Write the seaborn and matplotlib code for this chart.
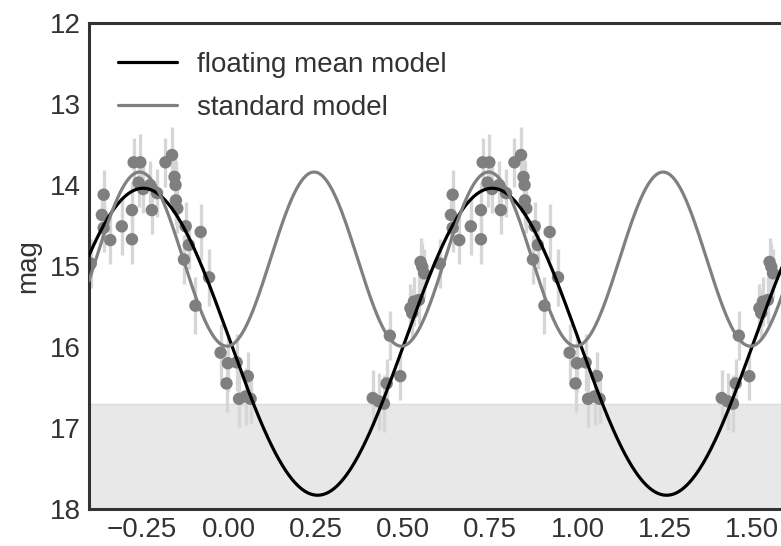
import numpy as np
import pandas as pd
import matplotlib
matplotlib.use("Agg")
import matplotlib.pyplot as plt
import seaborn as sns

# ---- data (base phase, magnitude, error) ----
phase = [-0.395, -0.358, -0.363, -0.358, -0.339, -0.306, -0.277, -0.277, -0.272, -0.253,
         -0.258, -0.245, -0.225, -0.205, -0.220, -0.181, -0.162, -0.155, -0.152, -0.151,
         -0.147, -0.123, -0.114, -0.080, -0.128, -0.056, -0.095, -0.023, -0.002, 0.023,
         -0.006, 0.055, 0.030, 0.049, 0.063, 0.413, 0.430, 0.445, 0.453, 0.462,
         0.492, 0.521, 0.526, 0.531, 0.545, 0.550, 0.555, 0.560]
mag = [14.97, 14.12, 14.37, 14.53, 14.68, 14.51, 14.31, 14.67, 13.72, 13.72,
       13.97, 14.05, 14.00, 14.10, 14.31, 13.72, 13.63, 13.90, 14.00, 14.19,
       14.29, 14.51, 14.74, 14.58, 14.92, 15.14, 15.49, 16.07, 16.20, 16.19,
       16.45, 16.36, 16.64, 16.61, 16.64, 16.63, 16.67, 16.70, 16.45, 15.86,
       16.36, 15.52, 15.58, 15.44, 15.42, 14.95, 15.01, 15.09]
dmag = [0.30, 0.30, 0.30, 0.30, 0.30, 0.35, 0.35, 0.30, 0.30, 0.35,
        0.30, 0.30, 0.30, 0.30, 0.30, 0.30, 0.35, 0.30, 0.30, 0.30,
        0.30, 0.30, 0.30, 0.35, 0.30, 0.35, 0.35, 0.35, 0.35, 0.35,
        0.35, 0.30, 0.35, 0.35, 0.30, 0.35, 0.35, 0.35, 0.30, 0.30,
        0.30, 0.30, 0.30, 0.30, 0.30, 0.30, 0.30, 0.30]
cycles = [0, 1]

# model parameters (mean, amplitude, phase of brightest point, harmonics per cycle)
float_mean, float_amp, float_peak, float_nu = 15.935, 1.895, -0.245, 1
std_mean, std_amp, std_peak, std_nu = 14.915, 1.075, 0.245, 2

detection_limit = 16.7
xlim = (-0.4, 1.6)
ylim = (18, 12)
xticks = [-0.25, 0.0, 0.25, 0.5, 0.75, 1.0, 1.25, 1.5]
yticks = [12, 13, 14, 15, 16, 17, 18]

# ---- build tables ----
obs = pd.concat([pd.DataFrame({"phase": np.array(phase) + c, "mag": mag, "dmag": dmag})
                 for c in cycles], ignore_index=True)
ph = np.linspace(xlim[0], xlim[1], 1000)
models = pd.concat([
    pd.DataFrame({"phase": ph,
                  "mag": float_mean - float_amp * np.cos(2 * np.pi * float_nu * (ph - float_peak)),
                  "model": "floating mean model"}),
    pd.DataFrame({"phase": ph,
                  "mag": std_mean - std_amp * np.cos(2 * np.pi * std_nu * (ph - std_peak)),
                  "model": "standard model"}),
], ignore_index=True)

sns.set_style("white")
plt.rcParams["font.family"] = ["Liberation Sans", "DejaVu Sans"]

fs = 20
fig = plt.figure(figsize=(7.81, 5.46), dpi=100)
ax = fig.add_axes([89 / 781, 37 / 546, 698 / 781, 486 / 546])

ax.fill_between([xlim[0], xlim[1]], detection_limit, ylim[0],
                color="#e8e8e8", edgecolor="#dcdcdc", lw=1, zorder=0)

ax.errorbar(obs["phase"], obs["mag"], yerr=obs["dmag"], fmt="none",
            ecolor="#d6d6d6", elinewidth=2.4, zorder=1)
sns.scatterplot(data=obs, x="phase", y="mag", color="#7f7f7f", s=80,
                edgecolor="none", linewidth=0, ax=ax, zorder=2, legend=False)

sns.lineplot(data=models, x="phase", y="mag", hue="model",
             palette={"floating mean model": "black", "standard model": "#808080"},
             lw=2.3, ax=ax, zorder=3, sort=False, estimator=None)

ax.set_xlim(*xlim)
ax.set_ylim(*ylim)
ax.set_xticks(xticks)
ax.set_xticklabels([f"{t:.2f}".replace("-", "\u2212") for t in xticks])
ax.set_yticks(yticks)
ax.set_xlabel("")
ax.set_ylabel("mag", fontsize=fs, color="#333333", labelpad=6)
ax.tick_params(axis="both", length=0, labelsize=fs, labelcolor="#333333", pad=6)
for s in ax.spines.values():
    s.set_color("#333333")
    s.set_linewidth(2.2)

leg = ax.legend(loc="upper left", frameon=False, fontsize=fs, handlelength=2.1,
                handletextpad=0.75, borderaxespad=0.65, labelspacing=0.6, title=None)
for t in leg.get_texts():
    t.set_color("#333333")

fig.savefig("out.png", dpi=100)
